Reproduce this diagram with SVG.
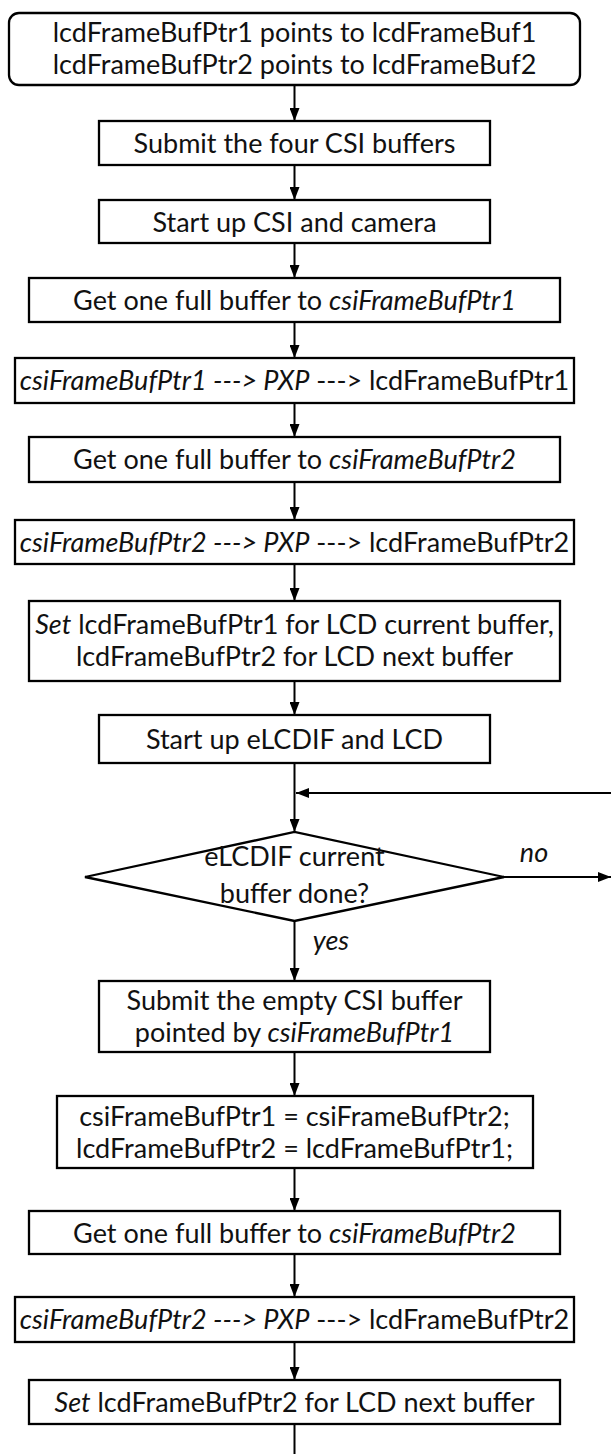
<svg xmlns="http://www.w3.org/2000/svg" width="611" height="1454" viewBox="0 0 611 1454">
<defs>
<marker id="ah" markerUnits="userSpaceOnUse" markerWidth="14" markerHeight="10" refX="13" refY="5" orient="auto">
<path d="M0,0 L13,5 L0,10 z" fill="#000"/>
</marker>
<style>
.box{fill:#fff;stroke:#000;stroke-width:2.3}
.t{font-family:Lato,"Liberation Sans",sans-serif;font-size:27px;fill:#111;text-anchor:middle}
.i{font-style:italic}
.c{fill:none;stroke:#000;stroke-width:2}
.ca{fill:none;stroke:#000;stroke-width:2;marker-end:url(#ah)}
</style>
</defs>
<rect width="611" height="1454" fill="#fff"/>
<g id="connectors">
<line class="ca" x1="294.5" y1="85" x2="294.5" y2="121"/>
<line class="ca" x1="294.5" y1="165" x2="294.5" y2="200"/>
<line class="ca" x1="294.5" y1="243" x2="294.5" y2="278"/>
<line class="ca" x1="294.5" y1="322" x2="294.5" y2="358"/>
<line class="ca" x1="294.5" y1="403" x2="294.5" y2="437"/>
<line class="ca" x1="294.5" y1="482" x2="294.5" y2="520"/>
<line class="ca" x1="294.5" y1="564" x2="294.5" y2="601"/>
<line class="ca" x1="294.5" y1="681" x2="294.5" y2="715"/>
<line class="ca" x1="294.5" y1="763" x2="294.5" y2="832"/>
<line class="ca" x1="611" y1="793" x2="296" y2="793"/>
<line class="ca" x1="504" y1="877" x2="611" y2="877"/>
<line class="ca" x1="294.5" y1="921" x2="294.5" y2="981"/>
<line class="ca" x1="294.5" y1="1052" x2="294.5" y2="1096"/>
<line class="ca" x1="294.5" y1="1168" x2="294.5" y2="1211"/>
<line class="ca" x1="294.5" y1="1254" x2="294.5" y2="1297"/>
<line class="ca" x1="294.5" y1="1342" x2="294.5" y2="1380"/>
<line class="c" x1="294.5" y1="1424" x2="294.5" y2="1454"/>
<text class="t i" x="534" y="862">no</text>
<text class="t i" x="331" y="950">yes</text>
</g>
<g id="n1"><rect class="box" x="9" y="13" width="571" height="72" rx="10"/>
<text class="t" x="294.5" y="42">lcdFrameBufPtr1 points to lcdFrameBuf1</text>
<text class="t" x="294.5" y="74">lcdFrameBufPtr2 points to lcdFrameBuf2</text></g>
<g id="n2"><rect class="box" x="99" y="121" width="391" height="44"/>
<text class="t" x="294.5" y="152.5">Submit the four CSI buffers</text></g>
<g id="n3"><rect class="box" x="99" y="200" width="391" height="43"/>
<text class="t" x="294.5" y="231.5">Start up CSI and camera</text></g>
<g id="n4"><rect class="box" x="29" y="278" width="531" height="44"/>
<text class="t" x="294.5" y="309.5">Get one full buffer to <tspan class="i">csiFrameBufPtr1</tspan></text></g>
<g id="n5"><rect class="box" x="15" y="358" width="559" height="45"/>
<text class="t" x="294.5" y="390"><tspan class="i">csiFrameBufPtr1 ---&gt; PXP</tspan> ---&gt; lcdFrameBufPtr1</text></g>
<g id="n6"><rect class="box" x="29" y="437" width="531" height="45"/>
<text class="t" x="294.5" y="469">Get one full buffer to <tspan class="i">csiFrameBufPtr2</tspan></text></g>
<g id="n7"><rect class="box" x="15" y="520" width="559" height="44"/>
<text class="t" x="294.5" y="551.5"><tspan class="i">csiFrameBufPtr2 ---&gt; PXP</tspan> ---&gt; lcdFrameBufPtr2</text></g>
<g id="n8"><rect class="box" x="29" y="601" width="531" height="80"/>
<text class="t" x="294.5" y="634"><tspan class="i">Set</tspan> lcdFrameBufPtr1 for LCD current buffer,</text>
<text class="t" x="294.5" y="666">lcdFrameBufPtr2 for LCD next buffer</text></g>
<g id="n9"><rect class="box" x="99" y="715" width="391" height="48"/>
<text class="t" x="294.5" y="748.5">Start up eLCDIF and LCD</text></g>
<g id="d1"><polygon class="box" points="85,877 294.5,832 504,877 294.5,921"/>
<text class="t" x="294.5" y="866">eLCDIF current</text>
<text class="t" x="294.5" y="903">buffer done?</text></g>
<g id="n10"><rect class="box" x="99" y="981" width="391" height="71"/>
<text class="t" x="294.5" y="1010">Submit the empty CSI buffer</text>
<text class="t" x="294.5" y="1042">pointed by <tspan class="i">csiFrameBufPtr1</tspan></text></g>
<g id="n11"><rect class="box" x="57" y="1096" width="476" height="72"/>
<text class="t" x="294.5" y="1126">csiFrameBufPtr1 = csiFrameBufPtr2;</text>
<text class="t" x="294.5" y="1158">lcdFrameBufPtr2 = lcdFrameBufPtr1;</text></g>
<g id="n12"><rect class="box" x="29" y="1211" width="531" height="43"/>
<text class="t" x="294.5" y="1242.5">Get one full buffer to <tspan class="i">csiFrameBufPtr2</tspan></text></g>
<g id="n13"><rect class="box" x="15" y="1297" width="559" height="45"/>
<text class="t" x="294.5" y="1329"><tspan class="i">csiFrameBufPtr2 ---&gt; PXP</tspan> ---&gt; lcdFrameBufPtr2</text></g>
<g id="n14"><rect class="box" x="29" y="1380" width="531" height="44"/>
<text class="t" x="294.5" y="1411.5"><tspan class="i">Set</tspan> lcdFrameBufPtr2 for LCD next buffer</text></g>
</svg>
